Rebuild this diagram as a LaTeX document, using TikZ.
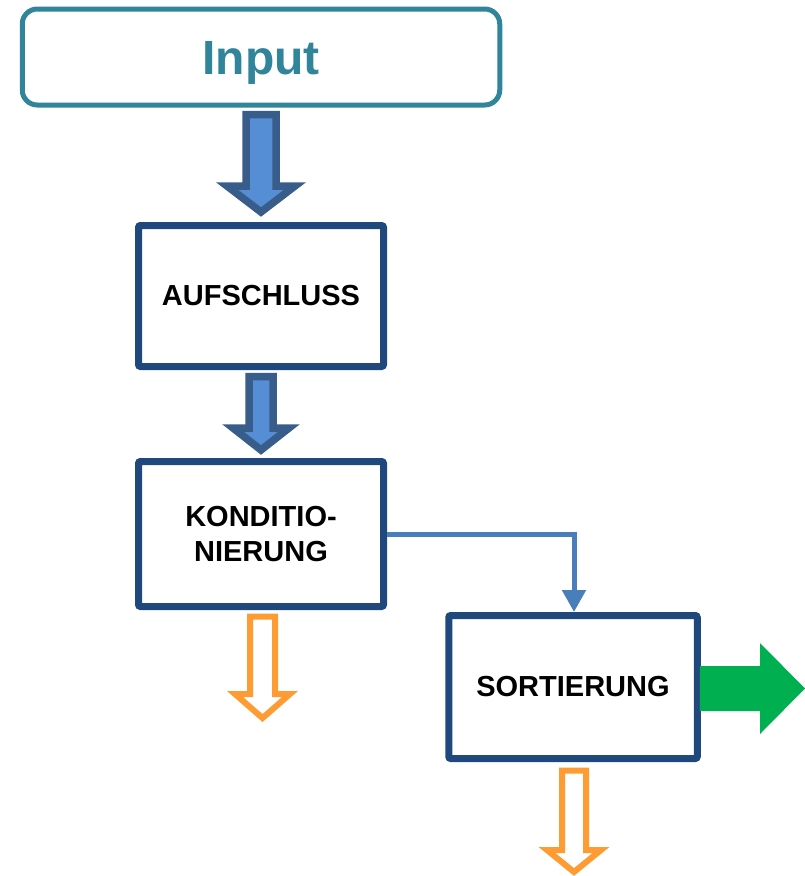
\documentclass[tikz,border=0pt]{standalone}
\usepackage{fontspec}
\setmainfont{Liberation Sans}
\usetikzlibrary{arrows.meta,calc}
\definecolor{tealc}{RGB}{49,133,155}
\definecolor{navyc}{RGB}{31,73,125}
\definecolor{bluefill}{RGB}{85,142,213}
\definecolor{bluestroke}{RGB}{56,93,138}
\definecolor{connc}{RGB}{74,126,187}
\definecolor{orangec}{RGB}{255,155,51}
\definecolor{greenc}{RGB}{0,176,80}
\newcommand\downblock[6]{%
  \draw[#1] let \p1=(#2), \p2=(#3) in
    (\x1-#4,\y1) -- (\x1-#4,\y2+#6) -- (\x1-#5,\y2+#6) -- (\x1,\y2)
    -- (\x1+#5,\y2+#6) -- (\x1+#4,\y2+#6) -- (\x1+#4,\y1) -- cycle;}
\tikzset{
  procbox/.style={draw=navyc, line width=7pt, rounded corners=2pt, fill=white,
    minimum width=245pt, minimum height=143pt, inner sep=0pt, align=center,
    font=\fontsize{29}{35}\selectfont\bfseries, text=black},
  bluearrow/.style={draw=bluestroke, fill=bluefill, line width=7.5pt, miter limit=10},
  orangearrow/.style={draw=orangec, fill=white, line width=6pt, miter limit=10},
  greenarrow/.style={fill=greenc, draw=none},
  conn/.style={draw=connc, line width=5pt, -{Triangle[width=23pt,length=22pt]}}
}
\begin{document}
\begin{tikzpicture}[x=1pt,y=-1pt]
\useasboundingbox (0,0) rectangle (805,876);
\node[draw=tealc, line width=5pt, rounded corners=15pt, fill=white,
  minimum width=477.5pt, minimum height=96pt, inner sep=0pt,
  text height=35pt, text depth=0pt, text=tealc,
  font=\fontsize{48}{56}\selectfont\bfseries] (input) at (261,57) {Input};
\node[procbox, minimum height=141pt] (auf) at (261,296) {AUFSCHLUSS};
\node[procbox, minimum height=145pt] (kond) at (261,534) {KONDITIO-\\NIERUNG};
\node[procbox, minimum width=248.5pt] (sort) at (573,687) {SORTIERUNG};
\coordinate (o1) at (262.5,718);
\coordinate (o2) at (574,872);
\coordinate (g1) at (805,688.5);
% block arrows
\downblock{bluearrow}{$(input.south)+(0,7)$}{$(auf.north)+(0,-10)$}{15pt}{34pt}{26pt}
\downblock{bluearrow}{$(auf.south)+(0,6.5)$}{$(kond.north)+(0,-8)$}{12pt}{28pt}{22pt}
\downblock{orangearrow}{$(kond.south)+(1.5,6.5)$}{o1}{12.5pt}{27.5pt}{24pt}
\downblock{orangearrow}{$(sort.south)+(1,8.5)$}{o2}{12pt}{27pt}{22pt}
\draw[greenarrow] let \p1=($(sort.east)+(-1,0)$), \p2=(g1) in
  (\x1,\y2+22.5pt) -- (\x2-45pt,\y2+22.5pt) -- (\x2-45pt,\y2+45.5pt) -- (\x2,\y2)
  -- (\x2-45pt,\y2-45.5pt) -- (\x2-45pt,\y2-22.5pt) -- (\x1,\y2-22.5pt) -- cycle;
% thin connector
\draw[conn] (kond.east) -| ($(sort.north)+(1,0)$);
\end{tikzpicture}
\end{document}
